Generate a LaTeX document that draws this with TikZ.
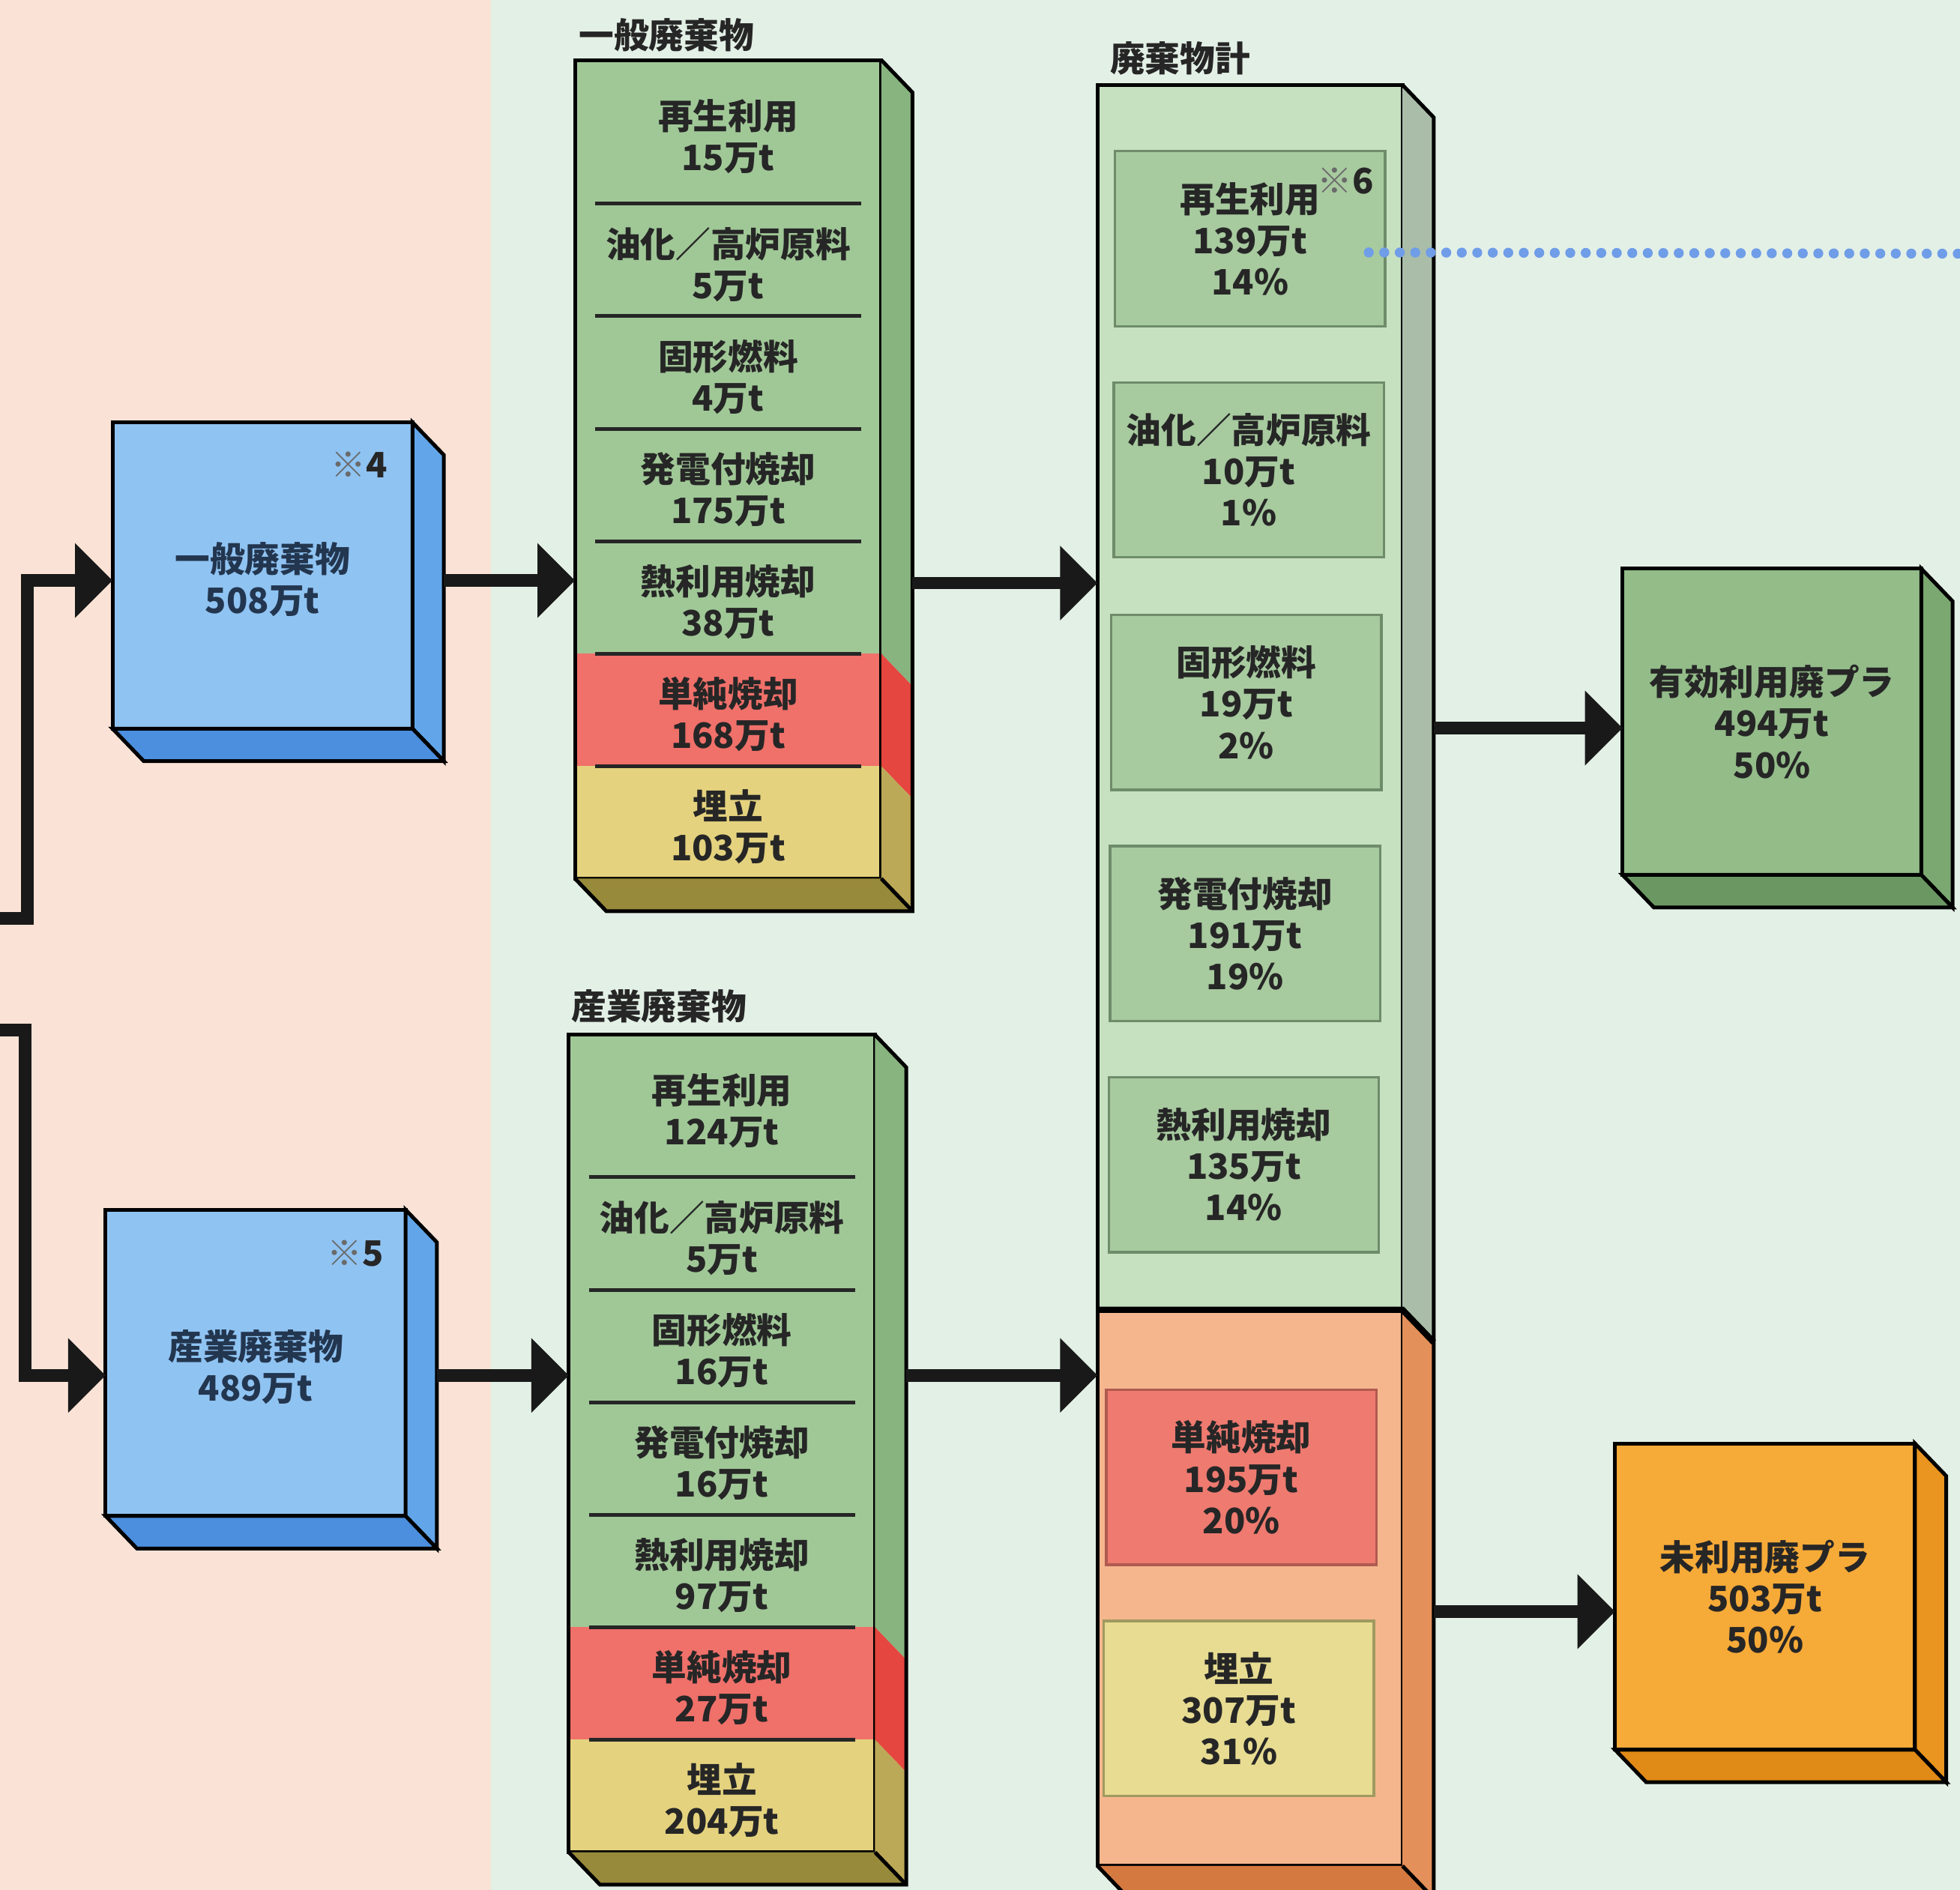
\documentclass[tikz,border=0pt]{standalone}
\usepackage{fontspec}
\setmainfont{Noto Sans CJK JP}
\usetikzlibrary{arrows.meta,calc}
\definecolor{pinkbg}{HTML}{FAE3D6}
\definecolor{mintbg}{HTML}{E3F0E6}
\definecolor{genfront}{HTML}{A0C897}
\definecolor{genside}{HTML}{88B47F}
\definecolor{redfront}{HTML}{F0706A}
\definecolor{redside}{HTML}{E5463F}
\definecolor{yelfront}{HTML}{E4D27E}
\definecolor{yelside}{HTML}{BCA957}
\definecolor{yelbot}{HTML}{978A3A}
\definecolor{bluefront}{HTML}{8FC3F2}
\definecolor{blueside}{HTML}{62A6E9}
\definecolor{bluebot}{HTML}{4B8FDE}
\definecolor{totfront}{HTML}{C6E1C0}
\definecolor{totside}{HTML}{A9BDA9}
\definecolor{totbox}{HTML}{A7CA9F}
\definecolor{totboxline}{HTML}{6E8C6A}
\definecolor{orafront}{HTML}{F5B68E}
\definecolor{oraside}{HTML}{E3905B}
\definecolor{orabot}{HTML}{D47A40}
\definecolor{ibred}{HTML}{EE7A70}
\definecolor{ibredline}{HTML}{B05A50}
\definecolor{ibyel}{HTML}{E7DC92}
\definecolor{ibyelline}{HTML}{A09A60}
\definecolor{goodfront}{HTML}{93BC89}
\definecolor{goodside}{HTML}{7BA871}
\definecolor{goodbot}{HTML}{6B9862}
\definecolor{unfront}{HTML}{F6AA38}
\definecolor{unside}{HTML}{E9951F}
\definecolor{unbot}{HTML}{E08A17}
\definecolor{dotblue}{HTML}{6F9DE8}
\definecolor{txt}{HTML}{262626}
\definecolor{navytxt}{HTML}{23364F}
\definecolor{notegray}{HTML}{6A6A6A}
\newcommand\boxfont{\bfseries\fontsize{28bp}{33bp}\selectfont}
\begin{document}
\begin{tikzpicture}[>={Triangle[length=30bp,width=58bp]},line join=miter,
  face/.style={draw=black,line width=3bp,rectangle,inner sep=0pt,outer sep=0pt},
  row/.style={rectangle,inner sep=0pt,outer sep=0pt,minimum width=245bp,minimum height=90bp,align=center,font=\boxfont,text=txt,text height=64bp},
  ibox/.style={draw=totboxline,line width=2bp,fill=totbox,rectangle,inner sep=0pt,minimum width=216bp,minimum height=140bp,align=center,font=\boxfont,text=txt},
  cube/.style={face,align=center,font=\boxfont,text=txt,minimum width=240bp,minimum height=245bp},
  title/.style={anchor=west,inner sep=0pt,font=\boxfont,text=txt},
  note/.style={anchor=east,inner sep=0pt,font=\boxfont,text=txt},
  edge/.style={draw=black,line width=3bp},
  sep/.style={draw=black!85,line width=3bp},
  deep/.style={shift={(25bp,-26bp)}},
  flow/.style={draw=black!90,line width=10bp,->},
  dots/.style={draw=dotblue,line width=8bp,line cap=round,dash pattern=on 0bp off 12.4bp},
]
%%
\fill[pinkbg] (0bp,0bp) rectangle (393bp,1512bp);
\fill[mintbg] (393bp,0bp) rectangle (1568bp,1512bp);
\useasboundingbox (0bp,0bp) rectangle (1568bp,1512bp);
%% input boxes
\node (gen_in) at (210bp,1051.5bp) [cube,fill=bluefront,text=navytxt,text height=63bp] {一般廃棄物\\508万t};
\filldraw[edge,fill=blueside] (gen_in.north east) -- ([deep]gen_in.north east) -- ([deep]gen_in.south east) -- (gen_in.south east) -- cycle;
\filldraw[edge,fill=bluebot] (gen_in.south west) -- (gen_in.south east) -- ([deep]gen_in.south east) -- ([deep]gen_in.south west) -- cycle;
\node (gen_note) at (310bp,1140bp) [note] {{\mdseries\color{notegray}※}4};
\node (ind_in) at (204.5bp,421.5bp) [cube,fill=bluefront,text=navytxt,text height=63bp] {産業廃棄物\\489万t};
\filldraw[edge,fill=blueside] (ind_in.north east) -- ([deep]ind_in.north east) -- ([deep]ind_in.south east) -- (ind_in.south east) -- cycle;
\filldraw[edge,fill=bluebot] (ind_in.south west) -- (ind_in.south east) -- ([deep]ind_in.south east) -- ([deep]ind_in.south west) -- cycle;
\node (ind_note) at (307bp,509bp) [note] {{\mdseries\color{notegray}※}5};
%% general waste column
\node (gen_title) at (463bp,1484bp) [title] {一般廃棄物};
\node (gen_recyc_1) at (582.5bp,1406.5bp) [row,fill=genfront,minimum height=115bp] {再生利用\\15万t};
\node (gen_oil_2) at (582.5bp,1304bp) [row,fill=genfront] {油化／高炉原料\\5万t};
\node (gen_rdf_3) at (582.5bp,1214bp) [row,fill=genfront] {固形燃料\\4万t};
\node (gen_power_4) at (582.5bp,1124bp) [row,fill=genfront] {発電付焼却\\175万t};
\node (gen_heat_5) at (582.5bp,1034bp) [row,fill=genfront] {熱利用焼却\\38万t};
\node (gen_burn_6) at (582.5bp,944bp) [row,fill=redfront] {単純焼却\\168万t};
\node (gen_land_7) at (582.5bp,854bp) [row,fill=yelfront] {埋立\\103万t};
\node (gen_col) at (582.5bp,1136.5bp) [face,minimum width=245bp,minimum height=655bp] {};
\foreach \r in {gen_recyc_1,gen_oil_2,gen_rdf_3,gen_power_4,gen_heat_5,gen_burn_6}
  \draw[sep] ([xshift=16bp]\r.south west) -- ([xshift=-16bp]\r.south east);
\fill[genside] (gen_col.north east) -- ([deep]gen_col.north east) -- ([deep]gen_heat_5.south east) -- (gen_heat_5.south east) -- cycle;
\fill[redside] (gen_burn_6.north east) -- ([deep]gen_burn_6.north east) -- ([deep]gen_burn_6.south east) -- (gen_burn_6.south east) -- cycle;
\fill[yelside] (gen_land_7.north east) -- ([deep]gen_land_7.north east) -- ([deep]gen_land_7.south east) -- (gen_land_7.south east) -- cycle;
\fill[yelbot] (gen_col.south west) -- (gen_col.south east) -- ([deep]gen_col.south east) -- ([deep]gen_col.south west) -- cycle;
\draw[edge] (gen_col.north east) -- ([deep]gen_col.north east) -- ([deep]gen_col.south east) -- ([deep]gen_col.south west) -- (gen_col.south west);
\draw[edge] (gen_col.south east) -- ([deep]gen_col.south east);
%% industrial waste column
\node (ind_title) at (457bp,707bp) [title] {産業廃棄物};
\node (ind_recyc_1) at (577.5bp,627bp) [row,fill=genfront,minimum height=114bp] {再生利用\\124万t};
\node (ind_oil_2) at (577.5bp,525bp) [row,fill=genfront] {油化／高炉原料\\5万t};
\node (ind_rdf_3) at (577.5bp,435bp) [row,fill=genfront] {固形燃料\\16万t};
\node (ind_power_4) at (577.5bp,345bp) [row,fill=genfront] {発電付焼却\\16万t};
\node (ind_heat_5) at (577.5bp,255bp) [row,fill=genfront] {熱利用焼却\\97万t};
\node (ind_burn_6) at (577.5bp,165bp) [row,fill=redfront] {単純焼却\\27万t};
\node (ind_land_7) at (577.5bp,75bp) [row,fill=yelfront] {埋立\\204万t};
\node (ind_col) at (577.5bp,357bp) [face,minimum width=245bp,minimum height=654bp] {};
\foreach \r in {ind_recyc_1,ind_oil_2,ind_rdf_3,ind_power_4,ind_heat_5,ind_burn_6}
  \draw[sep] ([xshift=16bp]\r.south west) -- ([xshift=-16bp]\r.south east);
\fill[genside] (ind_col.north east) -- ([deep]ind_col.north east) -- ([deep]ind_heat_5.south east) -- (ind_heat_5.south east) -- cycle;
\fill[redside] (ind_burn_6.north east) -- ([deep]ind_burn_6.north east) -- ([deep]ind_burn_6.south east) -- (ind_burn_6.south east) -- cycle;
\fill[yelside] (ind_land_7.north east) -- ([deep]ind_land_7.north east) -- ([deep]ind_land_7.south east) -- (ind_land_7.south east) -- cycle;
\fill[yelbot] (ind_col.south west) -- (ind_col.south east) -- ([deep]ind_col.south east) -- ([deep]ind_col.south west) -- cycle;
\draw[edge] (ind_col.north east) -- ([deep]ind_col.north east) -- ([deep]ind_col.south east) -- ([deep]ind_col.south west) -- (ind_col.south west);
\draw[edge] (ind_col.south east) -- ([deep]ind_col.south east);
%% total column
\node (tot_title) at (888bp,1465bp) [title] {廃棄物計};
\node (tot_upper) at (1000bp,954bp) [row,fill=totfront,minimum width=244bp,minimum height=980bp] {};
\node (tot_lower) at (1000bp,241.5bp) [row,fill=orafront,minimum width=244bp,minimum height=445bp] {};
\node (tot_col) at (1000bp,731.5bp) [face,minimum width=244bp,minimum height=1425bp] {};
\fill[totside] (tot_col.north east) -- ([deep]tot_col.north east) -- ([deep]tot_upper.south east) -- (tot_upper.south east) -- cycle;
\fill[oraside] (tot_lower.north east) -- ([deep]tot_lower.north east) -- ([deep]tot_lower.south east) -- (tot_lower.south east) -- cycle;
\fill[orabot] (tot_col.south west) -- (tot_col.south east) -- ([deep]tot_col.south east) -- ([deep]tot_col.south west) -- cycle;
\draw[edge] (tot_col.north east) -- ([deep]tot_col.north east) -- ([deep]tot_col.south east) -- ([deep]tot_col.south west) -- (tot_col.south west);
\draw[edge] (tot_col.south east) -- ([deep]tot_col.south east);
\draw[edge,line width=5bp] (tot_lower.north west) -- (tot_lower.north east) -- ([deep]tot_lower.north east);
\node (tot_recyc) at (1000bp,1321bp) [ibox] {再生利用\\139万t\\14\%};
\node (tot_note) at (1099bp,1367bp) [note] {{\mdseries\color{notegray}※}6};
\node (tot_oil) at (999bp,1136bp) [ibox] {油化／高炉原料\\10万t\\1\%};
\node (tot_rdf) at (997bp,950bp) [ibox] {固形燃料\\19万t\\2\%};
\node (tot_power) at (996bp,765bp) [ibox] {発電付焼却\\191万t\\19\%};
\node (tot_heat) at (995bp,580bp) [ibox] {熱利用焼却\\135万t\\14\%};
\node (tot_burn) at (993bp,330bp) [ibox,fill=ibred,draw=ibredline] {単純焼却\\195万t\\20\%};
\node (tot_land) at (991bp,145bp) [ibox,fill=ibyel,draw=ibyelline] {埋立\\307万t\\31\%};
%% result boxes
\node (good) at (1417.5bp,934.5bp) [cube,fill=goodfront,minimum width=239bp] {有効利用廃プラ\\494万t\\50\%};
\filldraw[edge,fill=goodside] (good.north east) -- ([deep]good.north east) -- ([deep]good.south east) -- (good.south east) -- cycle;
\filldraw[edge,fill=goodbot] (good.south west) -- (good.south east) -- ([deep]good.south east) -- ([deep]good.south west) -- cycle;
\node (unused) at (1412bp,234.5bp) [cube,fill=unfront] {未利用廃プラ\\503万t\\50\%};
\filldraw[edge,fill=unside] (unused.north east) -- ([deep]unused.north east) -- ([deep]unused.south east) -- (unused.south east) -- cycle;
\filldraw[edge,fill=unbot] (unused.south west) -- (unused.south east) -- ([deep]unused.south east) -- ([deep]unused.south west) -- cycle;
%% connectors
\coordinate (in_gen) at (0bp,777bp);
\coordinate (in_ind) at (0bp,688bp);
\coordinate (dot_end) at (1568bp,1309bp);
\draw[flow] (in_gen) -- ++(22bp,0bp) |- ($(gen_in.west)+(0bp,-4bp)$);
\draw[flow] (in_ind) -- ++(20bp,0bp) |- ($(ind_in.west)+(0bp,-10bp)$);
\draw[flow] ($(gen_in.east)+(25bp,-4bp)$) -- ($(gen_in.east -| gen_col.west)+(0bp,-4bp)$);
\draw[flow] ($(gen_in.east -| gen_col.east)+(25bp,-6bp)$) -- ($(gen_in.east -| tot_col.west)+(0bp,-6bp)$);
\draw[flow] ($(ind_in.east)+(25bp,-10bp)$) -- ($(ind_in.east -| ind_col.west)+(0bp,-10bp)$);
\draw[flow] ($(ind_in.east -| ind_col.east)+(25bp,-10bp)$) -- ($(ind_in.east -| tot_col.west)+(0bp,-10bp)$);
\draw[flow] ($(good.west -| tot_col.east)+(25bp,-5bp)$) -- ($(good.west)+(0bp,-5bp)$);
\draw[flow] ($(unused.west -| tot_col.east)+(25bp,-12bp)$) -- ($(unused.west)+(0bp,-12bp)$);
\draw[dots] ($(tot_recyc.east)+(-14bp,-11bp)$) -- (dot_end);
%
\end{tikzpicture}
\end{document}
